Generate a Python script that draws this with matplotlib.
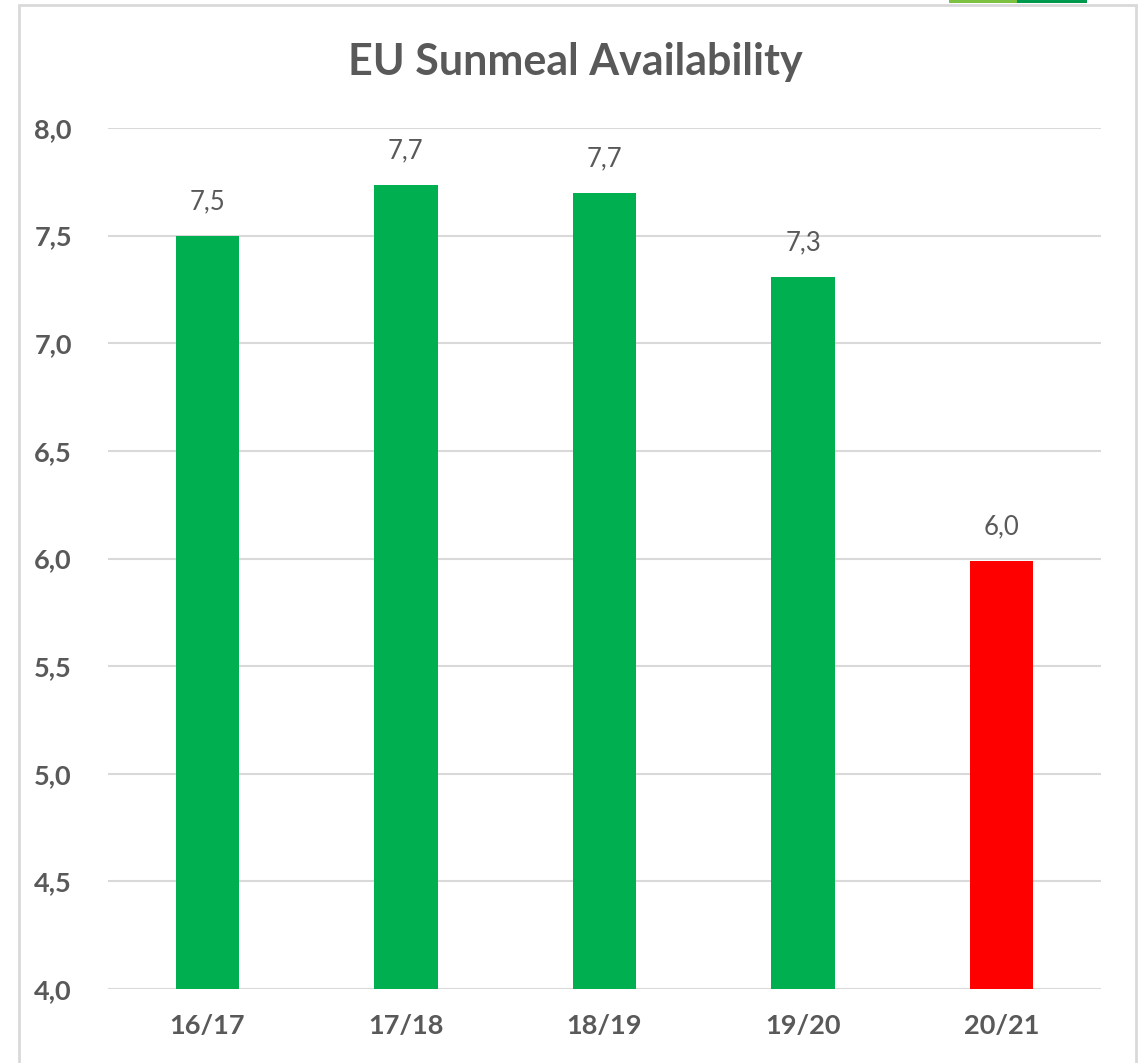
import matplotlib.pyplot as plt
from matplotlib.patches import Rectangle

seasons = ['16/17', '17/18', '18/19', '19/20', '20/21']
availability = [7.50, 7.735, 7.70, 7.31, 5.99]
value_labels = ['7,5', '7,7', '7,7', '7,3', '6,0']
bar_colors = ['#00B050', '#00B050', '#00B050', '#00B050', '#FF0000']
y_ticks = [4.0, 4.5, 5.0, 5.5, 6.0, 6.5, 7.0, 7.5, 8.0]

text_color = '#595959'
grid_color = '#D9D9D9'

fig = plt.figure(figsize=(11.38, 10.63), dpi=100, facecolor='white')

# outer chart frame and the little green strips at the top
fig.patches.append(Rectangle((19 / 1138, -0.01), 1117 / 1138, 1.01 - 5 / 1063,
                             transform=fig.transFigure, fill=False,
                             edgecolor=grid_color, linewidth=2))
fig.patches.append(Rectangle((949 / 1138, 1 - 3 / 1063), 68 / 1138, 3 / 1063,
                             transform=fig.transFigure, color='#7DC142', linewidth=0))
fig.patches.append(Rectangle((1017 / 1138, 1 - 3 / 1063), 70 / 1138, 3 / 1063,
                             transform=fig.transFigure, color='#009A4E', linewidth=0))

ax = fig.add_axes([108 / 1138, 74 / 1063, 993 / 1138, 861 / 1063])
x = range(len(seasons))
ax.bar(x, availability, width=0.32, color=bar_colors, bottom=0, zorder=3)

for xi, v, lab in zip(x, availability, value_labels):
    ax.text(xi, v + 0.1, lab, ha='center', va='bottom', fontsize=18.5,
            family='Lato', color=text_color)

ax.set_ylim(4.0, 8.0)
ax.set_xlim(-0.5, 4.5)
ax.set_yticks(y_ticks)
ax.set_yticklabels([f'{t:.1f}'.replace('.', ',') for t in y_ticks])
ax.set_xticks(list(x))
ax.set_xticklabels(seasons)
ax.tick_params(length=0, pad=18, labelsize=19.5, labelcolor=text_color)
ax.tick_params(axis='y', pad=26)
for lab in ax.get_xticklabels() + ax.get_yticklabels():
    lab.set_fontfamily('Lato')
    lab.set_fontweight('bold')

ax.grid(axis='y', color=grid_color, linewidth=1.5, zorder=0)
for spine in ax.spines.values():
    spine.set_visible(False)

fig.text(575 / 1138, 1 - 62 / 1063, 'EU Sunmeal Availability', ha='center', va='center',
         fontsize=31, fontweight='bold', family='Lato', color=text_color)

fig.savefig('out.png', dpi=100, facecolor='white')
